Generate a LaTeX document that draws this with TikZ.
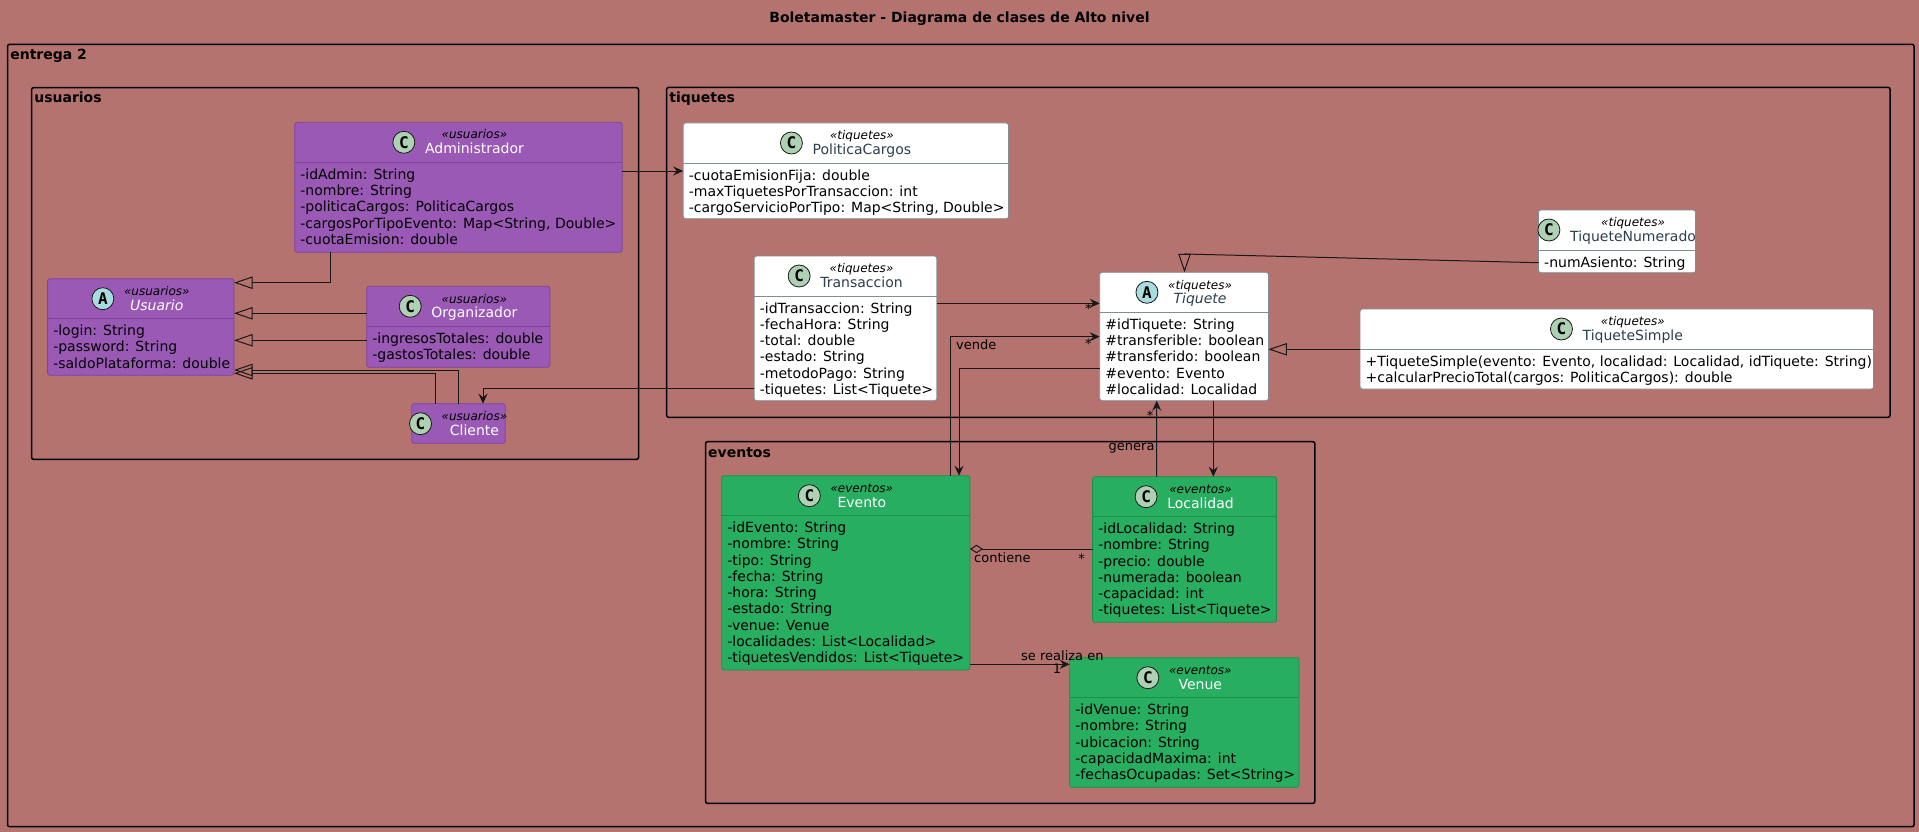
\documentclass[tikz,border=0pt]{standalone}
\usepackage{fontspec}
\setmainfont{DejaVu Sans}
\newfontfamily\spotfont{DejaVu Sans Mono}
\usetikzlibrary{calc,arrows.meta}
\definecolor{bgc}{RGB}{181,115,112}
\definecolor{pfill}{RGB}{155,89,182}
\definecolor{pline}{RGB}{128,66,156}
\definecolor{gfill}{RGB}{39,174,96}
\definecolor{gline}{RGB}{30,142,76}
\definecolor{wline}{RGB}{130,140,150}
\definecolor{namedark}{RGB}{44,62,80}
\definecolor{spotC}{RGB}{173,209,178}
\definecolor{spotA}{RGB}{169,220,223}
\definecolor{lnc}{RGB}{24,24,24}
\tikzset{
  pkg/.style={draw=black, line width=1.5pt, rounded corners=2pt, inner sep=0, outer sep=0, anchor=north west},
  pkl/.style={font=\bfseries\fontsize{14}{16}\selectfont, inner sep=0, anchor=base west},
  ttl/.style={font=\bfseries\fontsize{14}{16}\selectfont, inner sep=0, anchor=base},
  box/.style={rounded corners=2.5pt, inner sep=0, outer sep=0, anchor=north west, line width=0.8pt},
  pbox/.style={box, fill=pfill, draw=pline},
  gbox/.style={box, fill=gfill, draw=gline},
  wbox/.style={box, fill=white, draw=wline},
  psep/.style={draw=pline, line width=0.8pt},
  gsep/.style={draw=gline, line width=0.8pt},
  wsep/.style={draw=wline, line width=0.8pt},
  attr/.style={font=\fontsize{14}{16}\selectfont, text=black, inner sep=0, anchor=base west},
  stereo/.style={font=\itshape\fontsize{12}{14}\selectfont, text=black, inner sep=0},
  nmw/.style={font=\fontsize{14}{16}\selectfont, text=white, inner sep=0},
  nmwi/.style={font=\itshape\fontsize{14}{16}\selectfont, text=white, inner sep=0},
  nmd/.style={font=\fontsize{14}{16}\selectfont, text=namedark, inner sep=0},
  nmdi/.style={font=\itshape\fontsize{14}{16}\selectfont, text=namedark, inner sep=0},
  spot/.style={circle, draw=lnc, line width=0.8pt, minimum size=22pt, inner sep=0,
    font=\spotfont\bfseries\fontsize{16}{16}\selectfont, text=black},
  conn/.style={draw=lnc, line width=1pt},
  assoc/.style={conn, -{Stealth[length=10pt,width=9pt,inset=3.5pt]}},
  gen/.style={conn, -{Triangle[open,length=18.5pt,width=12.4pt]}},
  agg/.style={conn, {Diamond[open,length=13pt,width=8.5pt]}-},
  lbl/.style={font=\fontsize{13}{15}\selectfont, text=black, inner sep=0},
}
\newcommand\mkhead[6]{%
  \node[stereo, anchor=base] (#1-st) at ($(#1.north)+(16,16.7)$) {«#2»};
  \node[#6, anchor=base] (#1-nm) at ($(#1.north)+(16,31.5)$) {#3};
  \path let \p1=(#1-st.west), \p2=(#1-nm.west), \p3=($(#1.north)+(0,20)$) in
    coordinate (#1-l) at ({min(\x1,\x2)-21pt},\y3);
  \node[spot, fill=#5] (#1-sp) at (#1-l) {#4};
}
\newcommand\mksep[2]{%
  \draw[#2] ($(#1.north west)+(0,40)$) -- ($(#1.north east)+(0,40)$);
}
\newcommand\mkattrs[2]{%
  \foreach \t [count=\i from 0] in {#2} {\node[attr] (#1-a\i) at ($(#1.north west)+(5.5,57+16.25*\i)$) {\t};}%
}
\begin{document}
\begin{tikzpicture}[x=1pt,y=-1pt]
\fill[bgc] (0,0) rectangle (1919,832);
\useasboundingbox (0,0) rectangle (1919,832);

\node[ttl] (title) at (959.5,22.5) {Boletamaster - Diagrama de clases de Alto nivel};

% packages
\node[pkg, minimum width=1906.4pt, minimum height=782.4pt] (pe) at (7.6,44.3) {};
\node[pkg, minimum width=607pt, minimum height=371.6pt] (pu) at (31.6,87.7) {};
\node[pkg, minimum width=1223.3pt, minimum height=330pt] (pt) at (666.7,87.3) {};
\node[pkg, minimum width=609.4pt, minimum height=361.6pt] (pv) at (705.5,441.7) {};
\node[pkl] (pe-l) at ($(pe.north west)+(2.5,15.3)$) {entrega 2};
\node[pkl] (pu-l) at ($(pu.north west)+(2.5,15.3)$) {usuarios};
\node[pkl] (pt-l) at ($(pt.north west)+(2.5,15.3)$) {tiquetes};
\node[pkl] (pv-l) at ($(pv.north west)+(2.5,15.3)$) {eventos};

% class boxes
\node[pbox, minimum width=186.4pt, minimum height=96.6pt] (usr) at (47.6,278.7) {};
\node[pbox, minimum width=327.5pt, minimum height=130pt] (adm) at (294.7,122.3) {};
\node[pbox, minimum width=183.3pt, minimum height=81pt] (org) at (366.7,286.3) {};
\node[pbox, minimum width=93.5pt, minimum height=39.6pt] (cli) at (411.7,403.7) {};
\node[wbox, minimum width=325.4pt, minimum height=95.7pt] (pol) at (683.2,123) {};
\node[wbox, minimum width=182.6pt, minimum height=144.7pt] (tra) at (754.2,256) {};
\node[wbox, minimum width=168.7pt, minimum height=128.4pt] (tiq) at (1099.7,272.3) {};
\node[wbox, minimum width=157.1pt, minimum height=62.7pt] (tnu) at (1538.5,210) {};
\node[wbox, minimum width=513.6pt, minimum height=80pt] (tsi) at (1360,309) {};
\node[gbox, minimum width=248.3pt, minimum height=194.3pt] (eve) at (721.7,475.7) {};
\node[gbox, minimum width=183.9pt, minimum height=145.6pt] (loc) at (1092.6,476.7) {};
\node[gbox, minimum width=229.3pt, minimum height=129.6pt] (ven) at (1069.7,657.7) {};

% headers
\mkhead{usr}{usuarios}{Usuario}{A}{spotA}{nmwi}
\mkhead{adm}{usuarios}{Administrador}{C}{spotC}{nmw}
\mkhead{org}{usuarios}{Organizador}{C}{spotC}{nmw}
\mkhead{cli}{usuarios}{Cliente}{C}{spotC}{nmw}
\mkhead{pol}{tiquetes}{PoliticaCargos}{C}{spotC}{nmd}
\mkhead{tra}{tiquetes}{Transaccion}{C}{spotC}{nmd}
\mkhead{tiq}{tiquetes}{Tiquete}{A}{spotA}{nmdi}
\mkhead{tnu}{tiquetes}{TiqueteNumerado}{C}{spotC}{nmd}
\mkhead{tsi}{tiquetes}{TiqueteSimple}{C}{spotC}{nmd}
\mkhead{eve}{eventos}{Evento}{C}{spotC}{nmw}
\mkhead{loc}{eventos}{Localidad}{C}{spotC}{nmw}
\mkhead{ven}{eventos}{Venue}{C}{spotC}{nmw}

% separators
\mksep{usr}{psep}\mksep{adm}{psep}\mksep{org}{psep}
\mksep{pol}{wsep}\mksep{tra}{wsep}\mksep{tiq}{wsep}\mksep{tnu}{wsep}\mksep{tsi}{wsep}
\mksep{eve}{gsep}\mksep{loc}{gsep}\mksep{ven}{gsep}

% attributes
\mkattrs{usr}{{-login: String},{-password: String},{-saldoPlataforma: double}}
\mkattrs{adm}{{-idAdmin: String},{-nombre: String},{-politicaCargos: PoliticaCargos},{-cargosPorTipoEvento: Map<String, Double>},{-cuotaEmision: double}}
\mkattrs{org}{{-ingresosTotales: double},{-gastosTotales: double}}
\mkattrs{pol}{{-cuotaEmisionFija: double},{-maxTiquetesPorTransaccion: int},{-cargoServicioPorTipo: Map<String, Double>}}
\mkattrs{tra}{{-idTransaccion: String},{-fechaHora: String},{-total: double},{-estado: String},{-metodoPago: String},{-tiquetes: List<Tiquete>}}
\mkattrs{tiq}{{\#idTiquete: String},{\#transferible: boolean},{\#transferido: boolean},{\#evento: Evento},{\#localidad: Localidad}}
\mkattrs{tnu}{{-numAsiento: String}}
\mkattrs{tsi}{{+TiqueteSimple(evento: Evento, localidad: Localidad, idTiquete: String)},{+calcularPrecioTotal(cargos: PoliticaCargos): double}}
\mkattrs{eve}{{-idEvento: String},{-nombre: String},{-tipo: String},{-fecha: String},{-hora: String},{-estado: String},{-venue: Venue},{-localidades: List<Localidad>},{-tiquetesVendidos: List<Tiquete>}}
\mkattrs{loc}{{-idLocalidad: String},{-nombre: String},{-precio: double},{-numerada: boolean},{-capacidad: int},{-tiquetes: List<Tiquete>}}
\mkattrs{ven}{{-idVenue: String},{-nombre: String},{-ubicacion: String},{-capacidadMaxima: int},{-fechasOcupadas: Set<String>}}

% generalizations in usuarios
\draw[gen] ($(adm.south west)+(35.8,0)$) |- ($(usr.north east)+(0,4)$);
\draw[gen] ($(org.north west)+(0,27)$) -- ($(usr.north east)+(0,34.6)$);
\draw[gen] ($(org.north west)+(0,54)$) -- ($(usr.north east)+(0,61.6)$);
\draw[gen] ($(cli.north west)+(24,0)$) |- ($(usr.north east)+(0,94.6)$);
\draw[gen] ($(cli.north west)+(46.3,0)$) |- ($(usr.north east)+(0,91.3)$);

% associations
\draw[assoc] ($(adm.north east)+(0,48.7)$) -- ($(pol.north west)+(0,48)$);
\draw[assoc] ($(tra.north west)+(0,132.3)$) -| ($(cli.north west)+(71.3,0)$);
\draw[assoc] ($(tra.north east)+(0,47.3)$) -- ($(tiq.north west)+(0,31)$);
\draw[assoc] ($(eve.north west)+(228.5,0)$) |- ($(tiq.north west)+(0,64.4)$);
\draw[assoc] ($(tiq.north west)+(0,96.4)$) -| ($(eve.north west)+(237.3,0)$);
\draw[assoc] ($(loc.north west)+(64.1,0)$) -- ($(tiq.south west)+(57,0)$);
\draw[assoc] ($(tiq.south west)+(113.6,0)$) -- ($(loc.north west)+(120.7,0)$);
\draw[agg] ($(eve.north east)+(0,73.3)$) -- ($(loc.north west)+(0,72.3)$);
\draw[assoc] ($(eve.north east)+(0,188.6)$) -- ($(ven.north west)+(0,6.6)$);

% generalizations in tiquetes
\draw[gen] ($(tsi.north west)+(0,40.3)$) -- ($(tiq.north east)+(0,77)$);
\draw[gen] ($(tnu.north west)+(0,52.7)$) -- ($(tiq.north west)+(84.8,-18.3)$) -- ($(tiq.north west)+(84.8,0)$);

% labels
\node[lbl, anchor=base] (s1) at (1088.3,313.9) {*};
\node[lbl, anchor=base] (s2) at (1088.3,348.9) {*};
\node[lbl, anchor=base west] (l-vende) at (956,349.5) {vende};
\node[lbl, anchor=base] (s3) at (1150,420.5) {*};
\node[lbl, anchor=base east] (l-genera) at (1154.7,450.3) {genera};
\node[lbl, anchor=base west] (l-contiene) at (974,562.3) {contiene};
\node[lbl, anchor=base] (s4) at (1081.6,563.2) {*};
\node[lbl, anchor=base west] (l-realiza) at (1021,660.3) {se realiza en};
\node[lbl, anchor=base] (n1) at (1057,673.7) {1};
\end{tikzpicture}
\end{document}
